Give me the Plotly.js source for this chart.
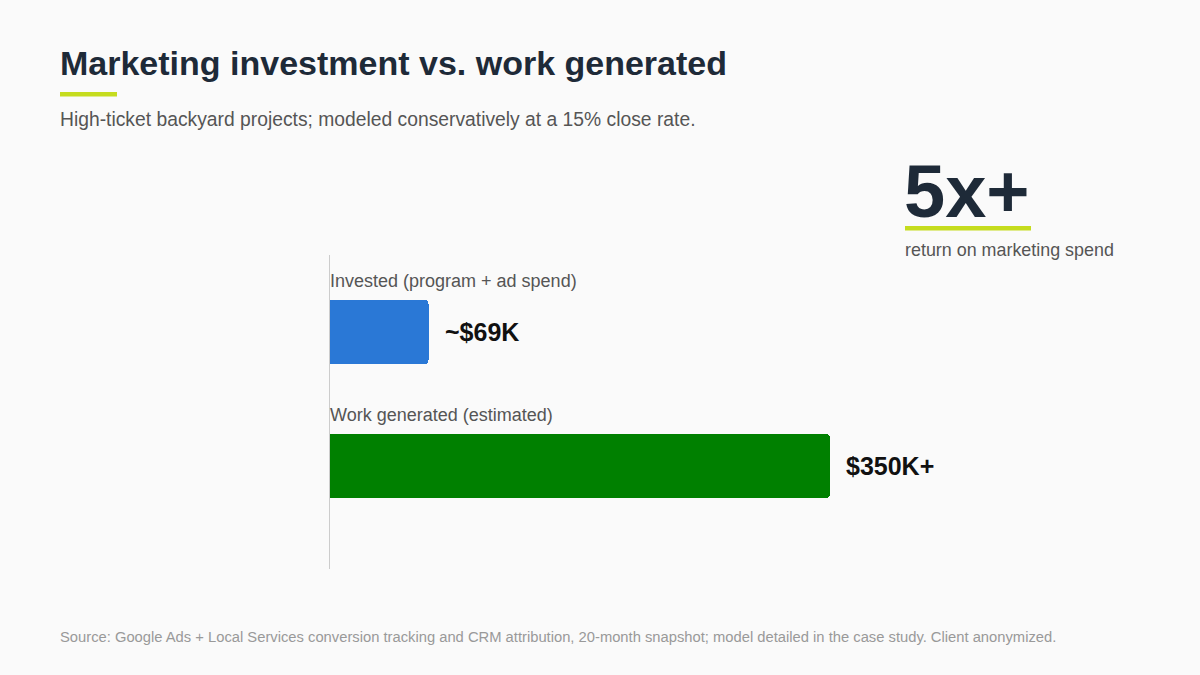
<!DOCTYPE html>
<html>
<head>
<meta charset="utf-8">
<script src="https://cdn.plot.ly/plotly-3.0.1.min.js"></script>
<style>
html,body{margin:0;padding:0;background:#fafafa;}
#chart{width:1200px;height:675px;}
</style>
</head>
<body>
<div id="chart"></div>
<script>
// Data
var categories = ["Invested (program + ad spend)", "Work generated (estimated)"];
var valuesK = [69, 350];
var valueLabels = ["~$69K", "$350K+"];
var barColors = ["#2a78d6", "#008000"];

var W = 1200, H = 675;
var M = {l: 330, r: 70, t: 255, b: 106};
var PW = W - M.l - M.r, PH = H - M.t - M.b;
function px(x){ return (x - M.l) / PW; }
function py(y){ return 1 - (y - M.t) / PH; }

var FONT = "Liberation Sans, Arial, sans-serif";

var trace = {
  type: "bar",
  orientation: "h",
  y: categories,
  x: valuesK,
  width: 0.478,
  marker: {color: barColors, cornerradius: 4, line: {width: 0}},
  hoverinfo: "skip"
};

var annotations = [];
categories.forEach(function(c, i){
  annotations.push({
    x: 0, y: c, xref: "x", yref: "y", xanchor: "left", yanchor: "middle",
    yshift: 51, xshift: -2, showarrow: false, text: c,
    font: {family: FONT, size: 18, color: "#555555"}
  });
  annotations.push({
    x: valuesK[i], y: c, xref: "x", yref: "y", xanchor: "left", yanchor: "middle",
    xshift: 14, showarrow: false, text: "<b>" + valueLabels[i] + "</b>",
    font: {family: FONT, size: 25, color: "#111111"}
  });
});

// Header texts
annotations.push({
  xref: "paper", yref: "paper", x: px(58), y: py(63), xanchor: "left", yanchor: "middle",
  showarrow: false, text: "<b>Marketing investment vs. work generated</b>",
  font: {family: FONT, size: 34, color: "#1e2a38"}
});
annotations.push({
  xref: "paper", yref: "paper", x: px(58), y: py(119), xanchor: "left", yanchor: "middle",
  showarrow: false, text: "High-ticket backyard projects; modeled conservatively at a 15% close rate.",
  font: {family: FONT, size: 19.3, color: "#555555"}
});
annotations.push({
  xref: "paper", yref: "paper", x: px(902), y: py(191), xanchor: "left", yanchor: "middle",
  showarrow: false, text: "<b>5x+</b>",
  font: {family: FONT, size: 74, color: "#1e2a38"}
});
annotations.push({
  xref: "paper", yref: "paper", x: px(903), y: py(250), xanchor: "left", yanchor: "middle",
  showarrow: false, text: "return on marketing spend",
  font: {family: FONT, size: 17.9, color: "#555555"}
});
annotations.push({
  xref: "paper", yref: "paper", x: px(58), y: py(637), xanchor: "left", yanchor: "middle",
  showarrow: false, text: "Source: Google Ads + Local Services conversion tracking and CRM attribution, 20-month snapshot; model detailed in the case study. Client anonymized.",
  font: {family: FONT, size: 14.75, color: "#999999"}
});

var shapes = [
  {type: "rect", xref: "paper", yref: "paper", x0: px(60), x1: px(117), y0: py(96.5), y1: py(92), fillcolor: "#c5dc1e", line: {width: 0}},
  {type: "rect", xref: "paper", yref: "paper", x0: px(905), x1: px(1031), y0: py(230.5), y1: py(226), fillcolor: "#c5dc1e", line: {width: 0}}
];

var layout = {
  width: W, height: H,
  margin: M,
  paper_bgcolor: "#fafafa",
  plot_bgcolor: "#fafafa",
  showlegend: false,
  xaxis: {range: [0, 560], showgrid: false, zeroline: false, showline: false, showticklabels: false, ticks: "", fixedrange: true},
  yaxis: {type: "category", range: [1.769, -0.575], showgrid: false, zeroline: false, showline: true, linecolor: "#cccccc", linewidth: 1, showticklabels: false, ticks: "", fixedrange: true},
  annotations: annotations,
  shapes: shapes,
  bargap: 0
};

Plotly.newPlot("chart", [trace], layout, {displayModeBar: false, staticPlot: true});
</script>
</body>
</html>
